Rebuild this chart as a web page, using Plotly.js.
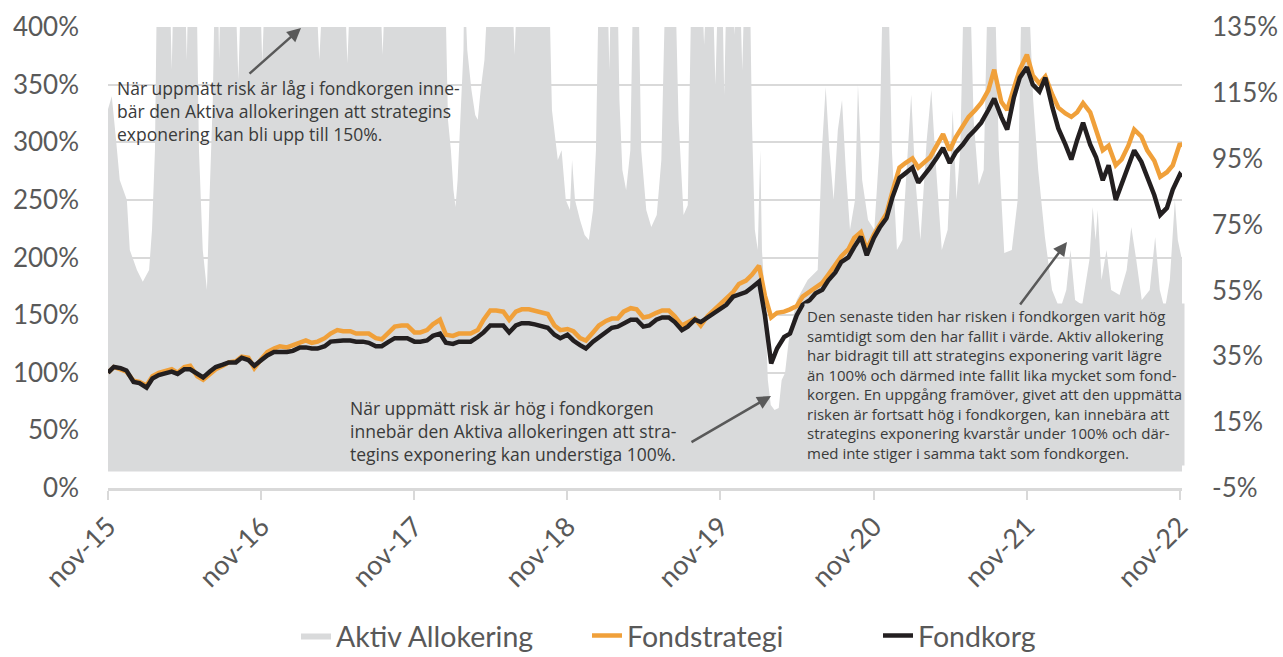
<!DOCTYPE html>
<html>
<head>
<meta charset="utf-8">
<script src="https://cdn.plot.ly/plotly-3.0.1.min.js"></script>
<style>html,body{margin:0;padding:0;background:#fff}#chart{width:1283px;height:657px}</style>
</head>
<body>
<div id="chart"></div>
<script>
// ---- Data ----
const tickDates = ['2015-11-01','2016-11-01','2017-11-01','2018-11-01','2019-11-01','2020-11-01','2021-11-01','2022-11-01'];
const tickLabels = ['nov-15','nov-16','nov-17','nov-18','nov-19','nov-20','nov-21','nov-22'];
const leftTicks = [0,50,100,150,200,250,300,350,400];
const rightTicks = [-5,15,35,55,75,95,115,135];

// semi-monthly observation dates (1st and 15th), Nov 2015 - Nov 2022
const lineDates = [];
for (let i = 0; i <= 84; i++) {
  const yr = 2015 + Math.floor((10 + i) / 12);
  const mo = String(((10 + i) % 12) + 1).padStart(2, '0');
  lineDates.push(yr + '-' + mo + '-01');
  if (i < 84) lineDates.push(yr + '-' + mo + '-15');
}
lineDates.push('2022-11-06');

// Fondkorg (%)
const fondkorg = [
  100,105, 104,102,
  92,91, 87,95, 98,99, 101,99, 103,103, 99,96, 101,105, 107,109, 109,113, 111,106, 111,115, 118,118,
  118,119, 122,122, 121,121, 123,127, 128,128, 128,127, 127,126, 123,123, 127,130, 130,130, 127,127, 128,132,
  134,126, 125,127, 127,127, 131,135, 141,141, 141,135, 141,143, 143,142, 140,139, 133,130, 133,128, 124,121,
  127,131, 135,139, 140,143, 146,146, 140,141, 146,148, 148,144, 137,140, 146,144, 148,152, 156,159, 166,168,
  170,174, 179,150, 108,121, 131,134, 150,159, 163,169, 172,180, 187,196, 200,209, 218,202, 217,226, 234,252,
  269,273, 278,265, 271,278, 287,295, 282,291, 298,305, 311,317, 328,338, 322,311, 339,356, 365,350, 344,356,
  330,312, 298,285, 302,317, 298,287, 267,280, 250,263, 280,293, 283,271, 254,237, 243,259, 272,
  270
];

// Fondstrategi (%)
const fondstrategi = [
  100,105, 103,101,
  93,92, 89,97, 100,101, 103,100, 105,106, 97,94, 99,103, 106,109, 110,114, 113,104, 112,118, 121,123,
  122,124, 127,128, 126,127, 130,134, 137,136, 136,134, 134,134, 130,129, 135,140, 141,141, 135,135, 137,142,
  146,133, 132,134, 134,134, 137,146, 154,154, 153,146, 153,155, 155,154, 153,151, 141,137, 138,136, 130,128,
  135,141, 145,147, 147,153, 156,155, 148,149, 152,154, 154,149, 141,144, 147,141, 149,154, 160,164, 170,177,
  180,185, 193,167, 148,152, 153,155, 158,166, 170,174, 178,185, 193,201, 207,217, 222,207, 220,228, 238,257,
  278,282, 286,278, 282,287, 298,307, 293,304, 314,322, 328,334, 345,363, 335,328, 347,363, 376,358, 351,357,
  341,330, 325,322, 326,334, 326,311, 293,297, 280,285, 297,311, 305,293, 284,270, 274,280, 299,
  296
];

// Aktiv Allokering (exposure, %, right axis) - read at turning points
const allokDates = [
  '2015-11-01','2015-11-10','2015-11-20','2015-11-29','2015-12-16','2015-12-23','2016-01-09','2016-01-23',
  '2016-02-07','2016-02-14','2016-02-21','2016-02-26','2016-03-27','2016-04-01','2016-04-06','2016-05-02',
  '2016-05-07','2016-05-11','2016-05-30','2016-06-05','2016-06-14','2016-06-24','2016-06-30','2016-07-08',
  '2016-07-13','2016-07-20','2016-07-23','2016-07-27','2016-08-30','2016-09-07','2016-09-14','2016-10-28',
  '2016-11-03','2016-11-10','2017-03-10','2017-03-19','2017-03-29','2017-05-18','2017-05-25','2017-06-02',
  '2017-08-10','2017-08-17','2017-08-24','2018-01-13','2018-01-20','2018-01-27','2018-02-02','2018-02-07',
  '2018-02-12','2018-02-19','2018-02-26','2018-02-28','2018-03-07','2018-03-17','2018-03-26','2018-04-01',
  '2018-04-08','2018-04-17','2018-04-27','2018-06-21','2018-06-28','2018-07-05','2018-09-18','2018-09-25',
  '2018-10-02','2018-10-09','2018-10-18','2018-10-28','2018-11-07','2018-11-12','2018-11-19','2018-12-01',
  '2018-12-12','2018-12-22','2019-01-01','2019-01-08','2019-01-15','2019-02-04','2019-02-09','2019-02-13',
  '2019-02-28','2019-03-05','2019-03-12','2019-03-21','2019-03-31','2019-04-07','2019-04-19','2019-04-26',
  '2019-05-08','2019-05-20','2019-06-02','2019-06-13','2019-06-23','2019-07-16','2019-07-24','2019-08-05',
  '2019-08-15','2019-08-24','2019-09-17','2019-09-23','2019-09-30','2019-10-13','2019-10-20','2019-10-27',
  '2019-11-05','2019-11-10','2019-11-16','2019-11-28','2019-12-04','2019-12-10','2019-12-17','2019-12-23',
  '2019-12-29','2020-01-10','2020-01-15','2020-01-22','2020-01-29','2020-02-04','2020-02-08','2020-02-15',
  '2020-02-22','2020-02-29','2020-03-09','2020-03-19','2020-03-26','2020-04-03','2020-04-14','2020-05-01',
  '2020-05-27','2020-06-20','2020-06-30','2020-07-09','2020-07-18','2020-07-28','2020-08-07','2020-08-17',
  '2020-08-26','2020-09-05','2020-09-17','2020-09-24','2020-10-04','2020-10-18','2020-11-02','2020-11-14',
  '2020-11-23','2020-12-05','2020-12-14','2020-12-26','2021-01-08','2021-01-20','2021-01-29','2021-02-08',
  '2021-02-20','2021-03-07','2021-03-18','2021-03-28','2021-04-12','2021-04-26','2021-05-08','2021-05-17',
  '2021-05-26','2021-06-04','2021-06-18','2021-06-27','2021-07-09','2021-07-21','2021-07-31','2021-08-16',
  '2021-08-26','2021-09-08','2021-09-26','2021-10-10','2021-10-20','2021-11-04','2021-11-16','2021-11-28',
  '2021-12-14','2021-12-31','2022-01-19','2022-02-03','2022-02-13','2022-02-24','2022-03-13','2022-03-30',
  '2022-04-07','2022-04-14','2022-04-19','2022-04-28','2022-05-10','2022-05-21','2022-06-10','2022-06-27',
  '2022-07-08','2022-07-20','2022-08-02','2022-08-21','2022-09-03','2022-09-14','2022-09-26','2022-10-08',
  '2022-10-20','2022-10-27','2022-11-06'
];
const allokering = [
  110,114,101,88.5,82.5,67.3,61.2,57.6,
  61.2,73.4,97.6,150,150,122,150,150,
  125,150,150,97.6,67.3,55.1,82.5,112.8,
  150,150,125,150,150,118.9,150,150,
  124,150,150,125,150,150,124,150,
  150,126.5,150,150,106.8,97.6,85.5,80.3,
  88.5,106.8,128,150,128,115.9,108.3,106.8,
  115.9,125,150,150,126.5,150,150,109.8,
  102.2,94.6,97.6,82.5,79.4,94.6,82.5,76.4,
  71.8,70.3,79.4,97.6,150,150,121.9,150,
  150,112.8,91.6,85.5,97.6,150,150,97.6,
  79.4,74.3,77.9,94.6,150,150,106.8,77.9,
  80.9,150,150,129.5,150,150,117.4,150,
  150,114.4,150,150,132.6,150,150,121.9,
  150,150,106.8,73.4,67.3,97.6,67.3,52.1,
  27.8,20.2,18.7,19.3,27.8,29.9,42.1,52.1,
  58.2,61.2,97.6,116.8,97.6,82.5,103.7,112.8,
  91.6,73.4,82.5,117.4,88.5,76.4,73.4,97.6,
  150,150,97.6,67.3,70.3,97.6,114.4,88.5,
  70.3,100.7,115.9,94.6,67.3,73.4,109.8,82.5,
  97.6,150,150,106.8,87,91.6,150,150,
  97.6,66.4,67.3,82.5,150,150,112.8,91.6,
  71.2,55.1,49.1,55.1,67.3,52.1,50.6,64.2,
  80.3,70.3,79.4,58.2,67.3,55.1,53.6,61.2,
  74.3,64.2,52.1,55.1,71.2,55.1,49.1,58.2,
  82.5,70.3,64.2
];

// ---- Traces ----
const GRAY = '#d9dadb', ORANGE = '#f0a03a', BLACK = '#231f20', TXT = '#595959';

const traces = [
  {
    name: 'Aktiv Allokering', x: allokDates, y: allokering, type: 'scatter', mode: 'lines',
    fill: 'tozeroy', fillcolor: GRAY, line: {width: 0, color: GRAY}, xaxis: 'x', yaxis: 'y',
    hoverinfo: 'skip'
  },
  {
    name: 'Fondstrategi', x: lineDates, y: fondstrategi, type: 'scatter', mode: 'lines',
    line: {color: ORANGE, width: 4.5}, xaxis: 'x', yaxis: 'y2'
  },
  {
    name: 'Fondkorg', x: lineDates, y: fondkorg, type: 'scatter', mode: 'lines',
    line: {color: BLACK, width: 4.5}, xaxis: 'x', yaxis: 'y2'
  }
];

const W = 1283, H = 657, ML = 108, MR = 101, MT = 27, MB = 169;
const PW = W - ML - MR, PH = H - MT - MB;
const px = v => (v - ML) / PW;           // pixel x -> paper
const py = v => (H - MB - v) / PH;       // pixel y -> paper

const annFont = {family: 'Open Sans', size: 17.5, color: '#3a3a3a'};
const annotations = [
  {xref: 'paper', yref: 'paper', x: px(115), y: py(74), xanchor: 'left', yanchor: 'top', align: 'left',
   showarrow: false, font: annFont,
   text: 'När uppmätt risk är låg i fondkorgen inne-<br>bär den Aktiva allokeringen att strategins<br>exponering kan bli upp till 150%.'},
  {xref: 'paper', yref: 'paper', x: px(348), y: py(394), xanchor: 'left', yanchor: 'top', align: 'left',
   showarrow: false, font: annFont,
   text: 'När uppmätt risk är hög i fondkorgen<br>innebär den Aktiva allokeringen att stra-<br>tegins exponering kan understiga 100%.'},
  {xref: 'paper', yref: 'paper', x: px(804), y: py(303), xanchor: 'left', yanchor: 'top', align: 'left',
   showarrow: false, bgcolor: GRAY, borderpad: 2,
   font: {family: 'Open Sans', size: 15, color: '#3a3a3a'},
   text: 'Den senaste tiden har risken i fondkorgen varit hög<br>samtidigt som den har fallit i värde. Aktiv allokering<br>har bidragit till att strategins exponering varit lägre<br>än 100% och därmed inte fallit lika mycket som fond-<br>korgen. En uppgång framöver, givet att den uppmätta<br>risken är fortsatt hög i fondkorgen, kan innebära att<br>strategins exponering kvarstår under 100% och där-<br>med inte stiger i samma takt som fondkorgen.'},
  // arrows
  {xref: 'paper', yref: 'paper', x: px(301), y: py(28), axref: 'pixel', ayref: 'pixel', ax: -53, ay: 47,
   text: '', showarrow: true, arrowhead: 2, arrowsize: 1.1, arrowwidth: 2.5, arrowcolor: TXT, standoff: 0},
  {xref: 'paper', yref: 'paper', x: px(771), y: py(396), axref: 'pixel', ayref: 'pixel', ax: -81, ay: 47,
   text: '', showarrow: true, arrowhead: 2, arrowsize: 1.1, arrowwidth: 2.5, arrowcolor: TXT, standoff: 0},
  {xref: 'paper', yref: 'paper', x: px(1067), y: py(242), axref: 'pixel', ayref: 'pixel', ax: -48, ay: 64,
   text: '', showarrow: true, arrowhead: 2, arrowsize: 1.1, arrowwidth: 2.5, arrowcolor: TXT, standoff: 0}
];

const layout = {
  width: W, height: H,
  margin: {l: ML, r: MR, t: MT, b: MB, pad: 0, autoexpand: false},
  paper_bgcolor: '#ffffff', plot_bgcolor: '#ffffff',
  font: {family: 'Lato', size: 26, color: TXT},
  showlegend: true,
  legend: {orientation: 'h', x: px(296), xanchor: 'left', y: py(636), yanchor: 'middle',
           font: {family: 'Lato', size: 28.5, color: TXT}, traceorder: 'normal',
           itemwidth: 30, entrywidth: 246, entrywidthmode: 'pixels', bgcolor: 'rgba(0,0,0,0)'},
  xaxis: {type: 'date', range: ['2015-11-01', '2022-11-06'], tickvals: tickDates, ticktext: tickLabels,
          tickangle: -45, ticks: 'outside', ticklen: 9, tickwidth: 2, tickcolor: '#d9d9d9',
          showline: true, linecolor: '#d9d9d9', linewidth: 3, showgrid: false, zeroline: false,
          tickfont: {family: 'Lato', size: 27, color: TXT}, fixedrange: true, automargin: false},
  yaxis: {side: 'right', range: [-5, 135], tickvals: rightTicks, ticktext: rightTicks.map(v => v + '%'),
          showgrid: false, zeroline: false, showline: false, ticks: '', ticklabelstandoff: 29,
          tickfont: {family: 'Lato', size: 26, color: TXT}, fixedrange: true, automargin: false},
  yaxis2: {overlaying: 'y', side: 'left', range: [0, 400], tickvals: leftTicks, ticktext: leftTicks.map(v => v + '%'),
           showgrid: true, gridcolor: '#d9d9d9', gridwidth: 2, zeroline: false, showline: false, ticks: '',
           ticklabelstandoff: 28, tickfont: {family: 'Lato', size: 26, color: TXT}, fixedrange: true, automargin: false},
  annotations: annotations
};

Plotly.newPlot('chart', traces, layout, {displayModeBar: false, staticPlot: true});
</script>
</body>
</html>
